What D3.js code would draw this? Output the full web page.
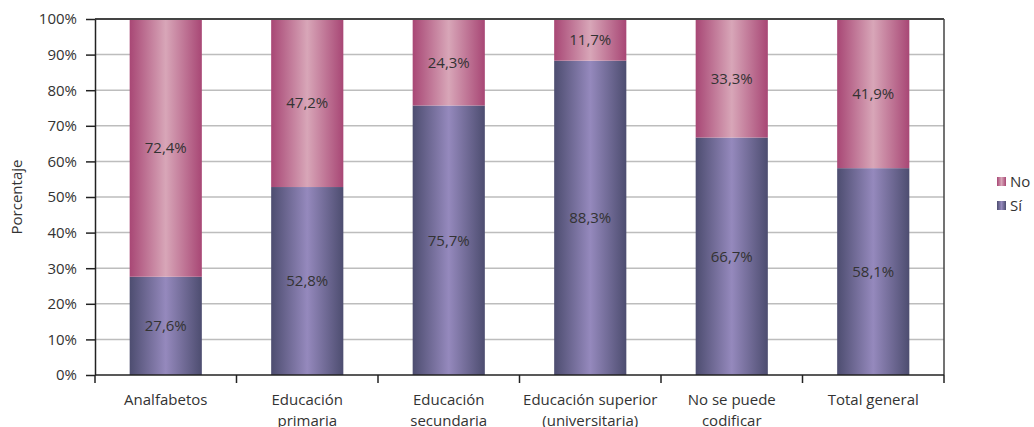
<!DOCTYPE html>
<html><head><meta charset="utf-8">
<script src="https://cdn.jsdelivr.net/npm/d3@7"></script>
<style>body{margin:0;background:#fff;} svg{display:block;} text{font-family:"Open Sans",sans-serif;fill:#333;}</style>
</head><body><svg id="c" width="1034" height="427"></svg>
<script>
const categories = [["Analfabetos"],["Educación","primaria"],["Educación","secundaria"],["Educación superior","(universitaria)"],["No se puede","codificar"],["Total general"]];
const siValues = [27.6, 52.8, 75.7, 88.3, 66.7, 58.1];
const noValues = [72.4, 47.2, 24.3, 11.7, 33.3, 41.9];
const yTicks = [0,10,20,30,40,50,60,70,80,90,100];
const seriesNames = ["Sí","No"];

const svg = d3.select("#c");
const L=95, R=944, T=19, B=375;
const FS=15;
const x = d3.scaleBand().domain(d3.range(categories.length)).range([L,R]).paddingInner(0.49).paddingOuter(0.245);
const y = d3.scaleLinear().domain([0,100]).range([B,T]);

const defs = svg.append("defs");
function grad(id, edge, mid){
  const g = defs.append("linearGradient").attr("id",id).attr("x1","0").attr("x2","1").attr("y1","0").attr("y2","0");
  g.append("stop").attr("offset","0").attr("stop-color",edge);
  g.append("stop").attr("offset","0.5").attr("stop-color",mid);
  g.append("stop").attr("offset","1").attr("stop-color",edge);
}
grad("gNo","#a84775","#d8a6b8");
grad("gSi","#4d4d70","#9589bd");

// gridlines
svg.append("g").selectAll("line").data(yTicks.filter(d=>d>0 && d<100)).join("line")
  .attr("x1",L).attr("x2",R).attr("y1",d=>y(d)).attr("y2",d=>y(d))
  .attr("stroke","#bdbdbd").attr("stroke-width",1.5);

// bars
const fmt = v => v.toFixed(1).replace(".",",")+"%";
const g = svg.append("g");
categories.forEach((c,i)=>{
  g.append("rect").attr("x",x(i)).attr("width",x.bandwidth()).attr("y",y(siValues[i])).attr("height",y(0)-y(siValues[i])).attr("fill","url(#gSi)");
  g.append("rect").attr("x",x(i)).attr("width",x.bandwidth()).attr("y",y(siValues[i]+noValues[i])).attr("height",y(siValues[i])-y(siValues[i]+noValues[i])).attr("fill","url(#gNo)");
  g.append("text").attr("x",x(i)+x.bandwidth()/2).attr("y",y(siValues[i]/2)).attr("dy","0.35em").attr("text-anchor","middle").attr("font-size",FS).text(fmt(siValues[i]));
  g.append("text").attr("x",x(i)+x.bandwidth()/2).attr("y",y(siValues[i]+noValues[i]/2)).attr("dy","0.35em").attr("text-anchor","middle").attr("font-size",FS).text(fmt(noValues[i]));
});

// frame top and right
svg.append("line").attr("x1",L).attr("x2",R).attr("y1",T).attr("y2",T).attr("stroke","#444").attr("stroke-width",2);
svg.append("line").attr("x1",R).attr("x2",R).attr("y1",T).attr("y2",B).attr("stroke","#444").attr("stroke-width",1.5);

// y axis
const ya = svg.append("g").attr("transform",`translate(${L},0)`).call(d3.axisLeft(y).tickValues(yTicks).tickFormat(d=>d+"%").tickSize(9).tickSizeOuter(0));
ya.select(".domain").attr("stroke","#222").attr("stroke-width",1.5);
ya.selectAll(".tick line").attr("stroke","#222").attr("stroke-width",1.5);
ya.selectAll(".tick text").attr("font-size",FS).attr("font-family","Open Sans").attr("fill","#333").attr("x",-18);

// x axis
svg.append("line").attr("x1",L).attr("x2",R).attr("y1",B).attr("y2",B).attr("stroke","#222").attr("stroke-width",1.5);
const bounds = d3.range(categories.length+1).map(i=>L+i*(R-L)/categories.length);
svg.append("g").selectAll("line").data(bounds).join("line").attr("x1",d=>d).attr("x2",d=>d).attr("y1",B).attr("y2",B+8).attr("stroke","#222").attr("stroke-width",1.5);
const xl = svg.append("g");
categories.forEach((c,i)=>{
  const t = xl.append("text").attr("x",x(i)+x.bandwidth()/2).attr("y",405).attr("text-anchor","middle").attr("font-size",FS);
  c.forEach((line,j)=>t.append("tspan").attr("x",x(i)+x.bandwidth()/2).attr("dy",j?21:0).text(line));
});

// y title
svg.append("text").attr("transform","translate(22,197) rotate(-90)").attr("text-anchor","middle").attr("font-size",FS).text("Porcentaje");

// legend
const leg = svg.append("g").attr("transform","translate(997,177)");
[["No","url(#gNo)"],["Sí","url(#gSi)"]].forEach((d,i)=>{
  leg.append("rect").attr("x",0).attr("y",i*24).attr("width",9).attr("height",9).attr("fill",d[1]);
  leg.append("text").attr("x",13).attr("y",i*24+5).attr("dy","0.35em").attr("font-size",FS).text(d[0]);
});
</script></body></html>
